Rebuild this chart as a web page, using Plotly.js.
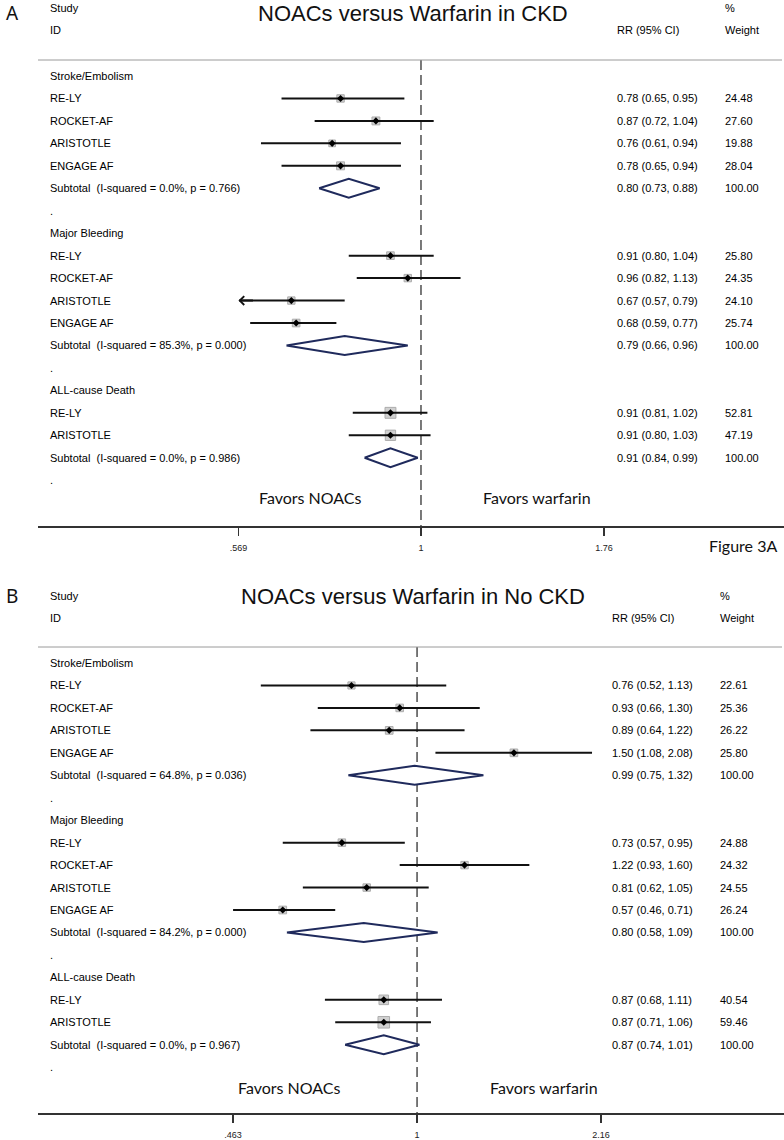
<!DOCTYPE html>
<html><head><meta charset="utf-8">
<script src="https://cdn.plot.ly/plotly-3.0.1.min.js"></script>
<style>html,body{margin:0;padding:0;background:#fff}#chart{width:784px;height:1140px}</style>
</head><body><div id="chart"></div>
<script>
// ---------- data ----------
const rowLabelsA = ["Stroke/Embolism","RE-LY","ROCKET-AF","ARISTOTLE","ENGAGE AF",
  "Subtotal  (I-squared = 0.0%, p = 0.766)",".",
  "Major Bleeding","RE-LY","ROCKET-AF","ARISTOTLE","ENGAGE AF",
  "Subtotal  (I-squared = 85.3%, p = 0.000)",".",
  "ALL-cause Death","RE-LY","ARISTOTLE","Subtotal  (I-squared = 0.0%, p = 0.986)","."];
const rrA = [null,0.78,0.87,0.76,0.78,0.80,null,null,0.91,0.96,0.67,0.68,0.79,null,null,0.91,0.91,0.91,null];
const loA = [null,0.65,0.72,0.61,0.65,0.73,null,null,0.80,0.82,0.57,0.59,0.66,null,null,0.81,0.80,0.84,null];
const hiA = [null,0.95,1.04,0.94,0.94,0.88,null,null,1.04,1.13,0.79,0.77,0.96,null,null,1.02,1.03,0.99,null];
const wA  = [null,24.48,27.60,19.88,28.04,100.00,null,null,25.80,24.35,24.10,25.74,100.00,null,null,52.81,47.19,100.00,null];
const truncA = [false,false,false,false,false,false,false,false,false,false,true,false,false,false,false,false,false,false,false];
const tickValsA = [0.569, 1, 1.76];
const tickTextA = [".569", "1", "1.76"];

const rowLabelsB = ["Stroke/Embolism","RE-LY","ROCKET-AF","ARISTOTLE","ENGAGE AF",
  "Subtotal  (I-squared = 64.8%, p = 0.036)",".",
  "Major Bleeding","RE-LY","ROCKET-AF","ARISTOTLE","ENGAGE AF",
  "Subtotal  (I-squared = 84.2%, p = 0.000)",".",
  "ALL-cause Death","RE-LY","ARISTOTLE","Subtotal  (I-squared = 0.0%, p = 0.967)","."];
const rrB = [null,0.76,0.93,0.89,1.50,0.99,null,null,0.73,1.22,0.81,0.57,0.80,null,null,0.87,0.87,0.87,null];
const loB = [null,0.52,0.66,0.64,1.08,0.75,null,null,0.57,0.93,0.62,0.46,0.58,null,null,0.68,0.71,0.74,null];
const hiB = [null,1.13,1.30,1.22,2.08,1.32,null,null,0.95,1.60,1.05,0.71,1.09,null,null,1.11,1.06,1.01,null];
const wB  = [null,22.61,25.36,26.22,25.80,100.00,null,null,24.88,24.32,24.55,26.24,100.00,null,null,40.54,59.46,100.00,null];
const truncB = rowLabelsB.map(() => false);
const tickValsB = [0.463, 1, 2.16];
const tickTextB = [".463", "1", "2.16"];

const titleA = "NOACs versus Warfarin in CKD";
const titleB = "NOACs versus Warfarin in No CKD";

// ---------- styling ----------
const TXT = "Arial, 'Liberation Sans', sans-serif";
const CAL = "Lato, 'Open Sans', sans-serif";
const H = 1140, W = 784;
const py = px => 1 - px / H;
const pxx = px => px / W;
const Y_TOP = -0.713, Y_BOT = 20.04;

const traces = [];
const annotations = [];
const shapes = [];

function panel(xa, ya, labels, rr, lo, hi, w, trunc, xmin, cfg) {
  const ciX = [], ciY = [], bx = [], by = [], bs = [], dX = [], dY = [];
  labels.forEach((lab, i) => {
    if (rr[i] === null) return;
    const isSub = lab.startsWith("Subtotal");
    if (isSub) {
      dX.push(lo[i], rr[i], hi[i], rr[i], lo[i], null);
      dY.push(i, i - 0.42, i, i + 0.42, i, null);
    } else {
      ciX.push(Math.max(lo[i], xmin), hi[i], null);
      ciY.push(i, i, null);
      bx.push(rr[i]); by.push(i); bs.push(1.5 * Math.sqrt(w[i]));
    }
  });
  // reference line at 1
  traces.push({x: [1, 1], y: [Y_TOP, Y_BOT], xaxis: xa, yaxis: ya, mode: "lines",
    line: {color: "#333", width: 1.3, dash: "10px,5px"}, hoverinfo: "skip", cliponaxis: false});
  traces.push({x: bx, y: by, xaxis: xa, yaxis: ya, mode: "markers",
    marker: {symbol: "square", size: bs, color: "#bdbdbd", line: {color: "#8a8a8a", width: 1}}, hoverinfo: "skip"});
  traces.push({x: ciX, y: ciY, xaxis: xa, yaxis: ya, mode: "lines",
    line: {color: "#111", width: 2}, hoverinfo: "skip"});
  traces.push({x: bx, y: by, xaxis: xa, yaxis: ya, mode: "markers",
    marker: {symbol: "diamond", size: 5.5, color: "#000"}, hoverinfo: "skip"});
  traces.push({x: dX, y: dY, xaxis: xa, yaxis: ya, mode: "lines", fill: "toself",
    fillcolor: "#fff", line: {color: "#1f2a5c", width: 2}, hoverinfo: "skip"});

  labels.forEach((lab, i) => {
    annotations.push({xref: "paper", yref: ya, x: pxx(48), y: i, xanchor: "left", yanchor: "middle",
      text: lab, showarrow: false, font: {family: TXT, size: 11, color: "#000"}});
    if (rr[i] !== null) {
      annotations.push({xref: "paper", yref: ya, x: pxx(cfg.rrX), y: i, xanchor: "left", yanchor: "middle",
        text: rr[i].toFixed(2) + " (" + lo[i].toFixed(2) + ", " + hi[i].toFixed(2) + ")",
        showarrow: false, font: {family: TXT, size: 11, color: "#000"}});
      annotations.push({xref: "paper", yref: ya, x: pxx(cfg.wX), y: i, xanchor: "left", yanchor: "middle",
        text: w[i].toFixed(2), showarrow: false, font: {family: TXT, size: 11, color: "#000"}});
    }
    if (trunc[i]) {
      annotations.push({xref: xa, yref: ya, x: Math.log10(xmin), y: i, ax: 16, ay: 0,
        text: "", showarrow: true, arrowhead: 4, arrowsize: 0.85, arrowwidth: 2, arrowcolor: "#111"});
    }
  });
  // headers
  const top = cfg.top;
  const hdr = (x, y, t) => annotations.push({xref: "paper", yref: "paper", x: pxx(x), y: py(y),
    xanchor: "left", yanchor: "middle", text: t, showarrow: false, font: {family: TXT, size: 11, color: "#000"}});
  hdr(48, top, "Study"); hdr(48, top + 22, "ID");
  hdr(cfg.wX, top, "%"); hdr(cfg.wX, top + 22, "Weight"); hdr(cfg.rrX, top + 22, "RR (95% CI)");
  annotations.push({xref: "paper", yref: "paper", x: pxx(413), y: py(cfg.titleY), xanchor: "center", yanchor: "middle",
    text: cfg.title, showarrow: false, font: {family: TXT, size: 22, color: "#111"}});
  annotations.push({xref: "paper", yref: "paper", x: pxx(cfg.letterX), y: py(cfg.titleY), xanchor: "center", yanchor: "middle",
    text: cfg.letter, showarrow: false, font: {family: "'Noto Sans', sans-serif", size: 19, color: "#111"}});
  annotations.push({xref: "paper", yref: "paper", x: pxx(cfg.favL), y: py(cfg.favY), xanchor: "left", yanchor: "middle",
    text: "Favors NOACs", showarrow: false, font: {family: CAL, size: 16, color: "#111"}});
  annotations.push({xref: "paper", yref: "paper", x: pxx(cfg.favR), y: py(cfg.favY), xanchor: "left", yanchor: "middle",
    text: "Favors warfarin", showarrow: false, font: {family: CAL, size: 16, color: "#111"}});
  shapes.push({type: "line", xref: "paper", yref: "paper", x0: pxx(38), x1: pxx(782),
    y0: py(cfg.lineY), y1: py(cfg.lineY), line: {color: "#9a9a9a", width: 1}});
}

panel("x", "y", rowLabelsA, rrA, loA, hiA, wA, truncA, tickValsA[0],
  {rrX: 615, wX: 723, top: 8, titleY: 13, title: titleA, letter: "A", letterX: 12,
   favL: 257, favR: 481, favY: 497, lineY: 60});
panel("x2", "y2", rowLabelsB, rrB, loB, hiB, wB, truncB, tickValsB[0],
  {rrX: 610, wX: 718, top: 596, titleY: 596, title: titleB, letter: "B", letterX: 12,
   favL: 236, favR: 488, favY: 1087, lineY: 647});

annotations.push({xref: "paper", yref: "paper", x: pxx(707), y: py(546), xanchor: "left", yanchor: "middle",
  text: "Figure 3A", showarrow: false, font: {family: CAL, size: 16, color: "#111"}});

const xBase = {type: "log", showgrid: false, zeroline: false, showline: true, linecolor: "#333", linewidth: 1.5,
  ticks: "outside", ticklen: 8, tickwidth: 1.3, tickcolor: "#333", tickfont: {family: TXT, size: 9, color: "#222"},
  ticklabelstandoff: 5, fixedrange: true};
const yBase = {visible: false, showgrid: false, zeroline: false, fixedrange: true, range: [Y_BOT, Y_TOP]};

const layout = {
  width: W, height: H, margin: {l: 0, r: 0, t: 0, b: 0}, showlegend: false,
  paper_bgcolor: "#fff", plot_bgcolor: "rgba(0,0,0,0)",
  xaxis: Object.assign({}, xBase, {domain: [pxx(38), 1], anchor: "y", range: [-0.5138, 0.4870],
    tickvals: tickValsA, ticktext: tickTextA}),
  yaxis: Object.assign({}, yBase, {domain: [py(526), py(60)], anchor: "x"}),
  xaxis2: Object.assign({}, xBase, {domain: [pxx(38), 1], anchor: "y2", range: [-0.689, 0.667],
    tickvals: tickValsB, ticktext: tickTextB}),
  yaxis2: Object.assign({}, yBase, {domain: [py(1113), py(647)], anchor: "x2"}),
  annotations: annotations, shapes: shapes
};
Plotly.newPlot("chart", traces, layout, {staticPlot: true, displayModeBar: false});
</script></body></html>
